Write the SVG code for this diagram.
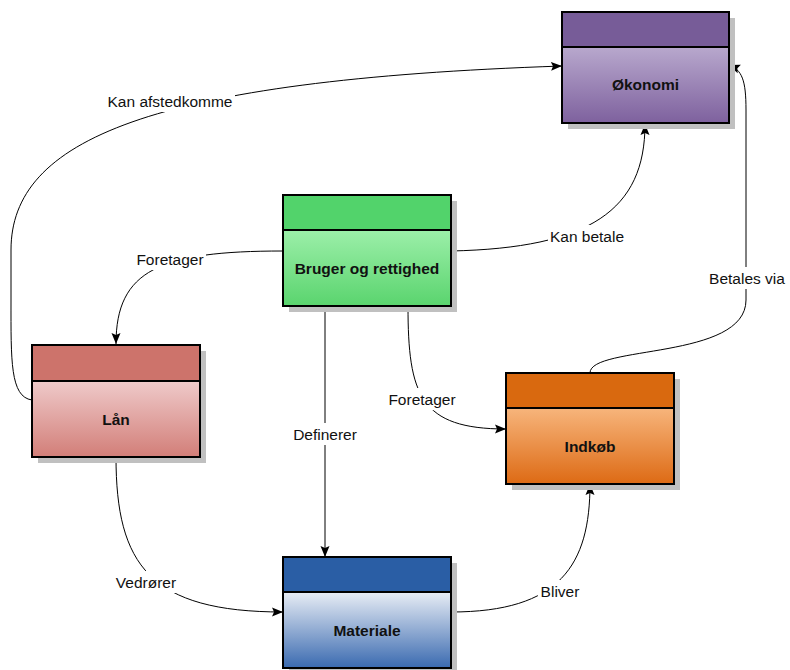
<svg xmlns="http://www.w3.org/2000/svg" width="790" height="670" viewBox="0 0 790 670">
<style>
.shadow{fill:#c0c0c0}
.box{stroke:#000;stroke-width:2}
.hdrline{stroke:#000;stroke-width:2}
.title{font-family:"Liberation Sans",Arial,sans-serif;font-size:15.5px;font-weight:bold;fill:#111;text-anchor:middle;dominant-baseline:central}
.conn{fill:none;stroke:#000;stroke-width:1}
.lbl{font-family:"Liberation Sans",Arial,sans-serif;font-size:15.5px;fill:#111;text-anchor:middle;dominant-baseline:central}
.lblbg{fill:#fff}
</style>
<defs>
<marker id="arr" markerUnits="userSpaceOnUse" markerWidth="12" markerHeight="12" viewBox="0 0 12 12" refX="11" refY="6" orient="auto">
<path d="M0,1.5 L11,6 L0,10.5 L2,6 Z" fill="#000"/>
</marker>
<linearGradient id="gP" x1="0" y1="0" x2="0" y2="1"><stop offset="0" stop-color="#b8a8cd"/><stop offset="1" stop-color="#7e619e"/></linearGradient>
<linearGradient id="gG" x1="0" y1="0" x2="0" y2="1"><stop offset="0" stop-color="#9cefa9"/><stop offset="1" stop-color="#5ad46e"/></linearGradient>
<linearGradient id="gR" x1="0" y1="0" x2="0" y2="1"><stop offset="0" stop-color="#efcaca"/><stop offset="1" stop-color="#d27e78"/></linearGradient>
<linearGradient id="gO" x1="0" y1="0" x2="0" y2="1"><stop offset="0" stop-color="#f7b57c"/><stop offset="1" stop-color="#dd6a14"/></linearGradient>
<linearGradient id="gB" x1="0" y1="0" x2="0" y2="1"><stop offset="0" stop-color="#e8edf5"/><stop offset="1" stop-color="#3a6ab0"/></linearGradient>
</defs>

<g id="connectors">
<path class="conn" d="M32,400 C10,397 11,360 11,300 L11,250 C11,140 150,80 562,66" marker-end="url(#arr)"/>
<path class="conn" d="M283,251 C160,251 116,270 116,344" marker-end="url(#arr)"/>
<path class="conn" d="M451,251 C590,248 645,210 645,124" marker-end="url(#arr)"/>
<path class="conn" d="M408,306 C408,395 420,429 506,429" marker-end="url(#arr)"/>
<path class="conn" d="M590,373 C590,345 746,360 746,300 L746,110 C746,80 742,70 729,65" marker-end="url(#arr)"/>
<path class="conn" d="M325,306 L325,557" marker-end="url(#arr)"/>
<path class="conn" d="M116,457 C116,565 150,612 283,612" marker-end="url(#arr)"/>
<path class="conn" d="M451,612 C560,612 590,565 590,484" marker-end="url(#arr)"/>
</g>

<g id="labels">
<rect class="lblbg" x="105" y="90" width="130" height="22"/><text class="lbl" x="170" y="101">Kan afstedkomme</text>
<rect class="lblbg" x="134" y="248" width="72" height="22"/><text class="lbl" x="170" y="259">Foretager</text>
<rect class="lblbg" x="548" y="225" width="78" height="22"/><text class="lbl" x="587" y="236">Kan betale</text>
<rect class="lblbg" x="386" y="388" width="72" height="22"/><text class="lbl" x="422" y="399">Foretager</text>
<rect class="lblbg" x="705" y="267" width="84" height="22"/><text class="lbl" x="747" y="278">Betales via</text>
<rect class="lblbg" x="289" y="423" width="72" height="22"/><text class="lbl" x="325" y="434">Definerer</text>
<rect class="lblbg" x="106" y="571" width="80" height="22"/><text class="lbl" x="146" y="582">Vedrører</text>
<rect class="lblbg" x="538" y="580" width="44" height="22"/><text class="lbl" x="560" y="591">Bliver</text>
</g>

<g id="okonomi">
<rect class="shadow" x="568" y="18" width="167" height="111"/>
<rect x="562" y="12" width="167" height="35" fill="#775c98"/>
<rect x="562" y="47" width="167" height="76" fill="url(#gP)"/>
<rect class="box" x="562" y="12" width="167" height="111" fill="none"/>
<line class="hdrline" x1="562" y1="47" x2="729" y2="47"/>
<text class="title" x="645.5" y="84">Økonomi</text>
</g>

<g id="bruger">
<rect class="shadow" x="289" y="201" width="168" height="111"/>
<rect x="283" y="195" width="168" height="35" fill="#52d36b"/>
<rect x="283" y="230" width="168" height="76" fill="url(#gG)"/>
<rect class="box" x="283" y="195" width="168" height="111" fill="none"/>
<line class="hdrline" x1="283" y1="230" x2="451" y2="230"/>
<text class="title" x="367" y="268">Bruger og rettighed</text>
</g>

<g id="laan">
<rect class="shadow" x="38" y="351" width="168" height="112"/>
<rect x="32" y="345" width="168" height="36" fill="#cd736b"/>
<rect x="32" y="381" width="168" height="76" fill="url(#gR)"/>
<rect class="box" x="32" y="345" width="168" height="112" fill="none"/>
<line class="hdrline" x1="32" y1="381" x2="200" y2="381"/>
<text class="title" x="116" y="419">Lån</text>
</g>

<g id="indkob">
<rect class="shadow" x="512" y="379" width="168" height="111"/>
<rect x="506" y="373" width="168" height="35" fill="#d9690f"/>
<rect x="506" y="408" width="168" height="76" fill="url(#gO)"/>
<rect class="box" x="506" y="373" width="168" height="111" fill="none"/>
<line class="hdrline" x1="506" y1="408" x2="674" y2="408"/>
<text class="title" x="590" y="446">Indkøb</text>
</g>

<g id="materiale">
<rect class="shadow" x="289" y="563" width="168" height="111"/>
<rect x="283" y="557" width="168" height="35" fill="#2a5ea5"/>
<rect x="283" y="592" width="168" height="76" fill="url(#gB)"/>
<rect class="box" x="283" y="557" width="168" height="111" fill="none"/>
<line class="hdrline" x1="283" y1="592" x2="451" y2="592"/>
<text class="title" x="367" y="630">Materiale</text>
</g>
</svg>
